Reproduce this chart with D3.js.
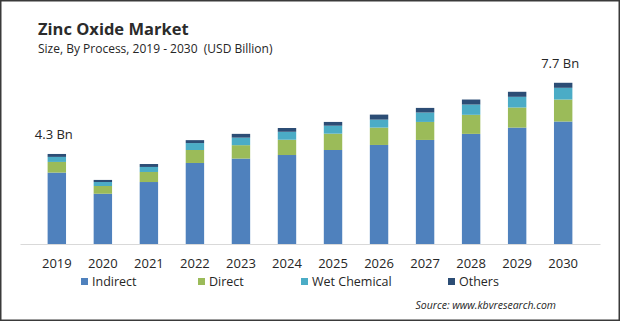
<!DOCTYPE html>
<html>
<head>
<meta charset="utf-8">
<script src="https://cdn.jsdelivr.net/npm/d3@7"></script>
<style>
  body { margin: 0; background: #fff; }
  svg { display: block; font-family: "Open Sans", sans-serif; }
</style>
</head>
<body>
<svg id="chart" width="620" height="322"></svg>
<script>
var years = ["2019", "2020", "2021", "2022", "2023", "2024", "2025", "2026", "2027", "2028", "2029", "2030"];
var indirect    = [3.41, 2.40, 2.96, 3.87, 4.08, 4.25, 4.49, 4.73, 4.97, 5.26, 5.56, 5.85];
var direct      = [0.51, 0.37, 0.48, 0.62, 0.64, 0.73, 0.78, 0.83, 0.86, 0.91, 0.96, 1.05];
var wetChemical = [0.24, 0.19, 0.24, 0.33, 0.36, 0.38, 0.38, 0.38, 0.45, 0.49, 0.51, 0.56];
var others      = [0.14, 0.10, 0.14, 0.14, 0.18, 0.18, 0.18, 0.24, 0.22, 0.24, 0.24, 0.24];
var seriesNames = ["Indirect", "Direct", "Wet Chemical", "Others"];
var colors = ["#4f81bd", "#9bbb59", "#4bacc6", "#2c4d75"];

var rows = years.map(function(yr, i){
  return { year: yr, Indirect: indirect[i], Direct: direct[i], "Wet Chemical": wetChemical[i], Others: others[i] };
});

var svg = d3.select("#chart");

// frame
svg.append("rect")
  .attr("x", 0.75).attr("y", 0.75)
  .attr("width", 618.5).attr("height", 319.5)
  .attr("fill", "none")
  .attr("stroke", "#3a3a3a")
  .attr("stroke-width", 1.5);

// titles
svg.append("text")
  .attr("x", 38).attr("y", 35)
  .attr("font-size", 16.5).attr("font-weight", "bold")
  .attr("fill", "#2b2b2b")
  .text("Zinc Oxide Market");

svg.append("text")
  .attr("x", 38).attr("y", 52.5)
  .attr("font-size", 12)
  .attr("fill", "#262626")
  .attr("xml:space", "preserve")
  .text("Size, By Process, 2019 - 2030  (USD Billion)");

var x = d3.scaleBand().domain(years).range([20, 600]).padding(0.6);
var y = d3.scaleLinear().domain([0, 9.6]).range([244, 43]);

var stacked = d3.stack().keys(seriesNames)(rows);

svg.append("g")
  .selectAll("g")
  .data(stacked)
  .join("g")
    .attr("fill", function(d, i){ return colors[i]; })
  .selectAll("rect")
  .data(function(d){ return d; })
  .join("rect")
    .attr("x", function(d){ return x(d.data.year); })
    .attr("y", function(d){ return y(d[1]); })
    .attr("width", x.bandwidth())
    .attr("height", function(d){ return y(d[0]) - y(d[1]); });

// axis
var axis = svg.append("g")
  .attr("transform", "translate(0,244)")
  .call(d3.axisBottom(x).tickSize(0).tickPadding(15));
axis.select(".domain").attr("stroke", "#d9d9d9");
axis.selectAll("text")
  .attr("font-size", 13)
  .attr("font-family", "Open Sans, sans-serif")
  .attr("fill", "#262626");

// totals on first and last bar
var totals = rows.map(function(r){ return r.Indirect + r.Direct + r["Wet Chemical"] + r.Others; });
var ends = [0, years.length - 1];
svg.append("g")
  .selectAll("text")
  .data(ends)
  .join("text")
    .attr("x", function(i){ return x(years[i]) + x.bandwidth() / 2 - 3; })
    .attr("y", function(i){ return y(totals[i]) - 14.5; })
    .attr("text-anchor", "middle")
    .attr("font-size", 13)
    .attr("fill", "#262626")
    .text(function(i){ return totals[i].toFixed(1) + " Bn"; });

// legend
var legendX = [81, 198, 301, 448];
var legend = svg.append("g")
  .selectAll("g")
  .data(seriesNames)
  .join("g")
    .attr("transform", function(d, i){ return "translate(" + legendX[i] + ",278)"; });
legend.append("rect")
  .attr("width", 7).attr("height", 7)
  .attr("fill", function(d, i){ return colors[i]; });
legend.append("text")
  .attr("x", 11).attr("y", 7.5)
  .attr("font-size", 12.5)
  .attr("fill", "#262626")
  .text(function(d){ return d; });

// source
svg.append("text")
  .attr("x", 556).attr("y", 309)
  .attr("text-anchor", "end")
  .attr("font-size", 10.5)
  .attr("font-style", "italic")
  .attr("fill", "#262626")
  .text("Source: www.kbvresearch.com");
</script>
</body>
</html>
